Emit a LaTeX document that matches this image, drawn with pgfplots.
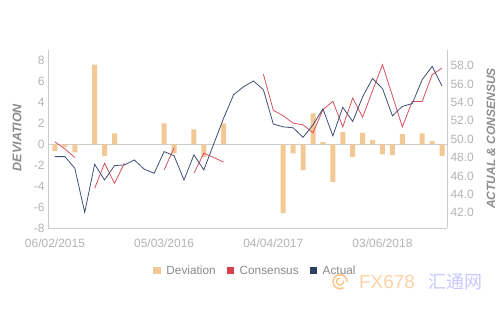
\documentclass[border=0pt]{standalone}
\usepackage{fontspec}
\setmainfont{Liberation Sans}
\newfontfamily\cjk{Noto Sans CJK SC}
\usepackage{pgfplots}
\pgfplotsset{compat=1.18}
\definecolor{devc}{HTML}{F2C895}
\definecolor{conc}{HTML}{D8404E}
\definecolor{actc}{HTML}{2F3F62}
\definecolor{conl}{HTML}{D9525E}
\definecolor{actl}{HTML}{414F70}
\definecolor{axc}{HTML}{CCCCCC}
\definecolor{tickc}{HTML}{B3B3B3}
\definecolor{labc}{HTML}{8C8C8C}
\definecolor{legc}{HTML}{8A8A8A}
\begin{document}
\begin{tikzpicture}
\pgfplotsset{
  common/.style={
    scale only axis, width=399pt, height=178.3pt,
    xmin=-0.7, xmax=39.5,
    /pgf/number format/assume math mode=true,
    tick label style={font=\fontsize{12}{14}\selectfont, text=tickc},
    axis line style={-, draw=axc, line width=0.6pt},
    tick style={draw=none},
  }
}
\begin{axis}[common,
  ymin=-8, ymax=9,
  axis x line*=bottom, axis y line*=left,
  xtick={0,11,22,33},
  xticklabels={06/02/2015,05/03/2016,04/04/2017,03/06/2018},
  xticklabel style={yshift=-7pt},
  ytick={-8,-6,...,8},
  extra y ticks={0}, extra y tick labels={},
  extra y tick style={grid=major, major grid style={draw=axc, line width=0.6pt}},
  ylabel={DEVIATION},
  ylabel style={at={(axis description cs:-0.0777,0.509)}, anchor=center,
    font=\fontsize{12.5}{14}\selectfont\bfseries\itshape, text=labc},
]
\addplot[ybar, bar width=5pt, fill=devc, draw=none] coordinates {
(0,-0.64) (1,-0.26) (2,-0.76) (4,7.6) (5,-1.12) (6,1.05) (11,2.0) (12,-0.86)
(14,1.43) (15,-1.2) (17,2.0) (23,-6.56) (24,-0.86) (25,-2.45) (26,2.96)
(27,0.22) (28,-3.57) (29,1.17) (30,-1.18) (31,1.13) (32,0.41) (33,-0.95)
(34,-1.02) (35,0.98) (37,1.05) (38,0.32) (39,-1.12)
};
\end{axis}
\begin{axis}[common,
  ymin=40.3, ymax=59.7,
  axis y line*=right, axis x line=none,
  ytick={42,44,...,58},
  yticklabel={\pgfmathprintnumber[fixed,fixed zerofill,precision=1]{\tick}},
  yticklabel style={anchor=west},
  ylabel={ACTUAL \& CONSENSUS},
  ylabel style={at={(axis description cs:1.110,0.504)}, anchor=center,
    font=\fontsize{12}{14}\selectfont\bfseries\itshape, text=labc},
  unbounded coords=jump,
  legend image code/.code={\fill[#1, draw=none] (0pt,-3.6pt) rectangle (7.2pt,3.6pt); \path[draw=none, fill=none] (0pt,0pt) -- (11pt,0pt);},
  legend style={at={(axis description cs:0.52,-0.238)}, anchor=center, draw=none,
    font=\fontsize{11.8}{14}\selectfont, text=legc,
    /tikz/every even column/.append style={column sep=9pt}},
  legend columns=3,
]
\addlegendimage{fill=devc}
\addlegendentry{Deviation}
\addlegendimage{fill=conc}
\addlegendentry{Consensus}
\addlegendimage{fill=actc}
\addlegendentry{Actual}
\addplot[forget plot, conl, line width=0.8pt] coordinates {
(0,49.7) (1,48.94) (2,48.0) (3,nan) (4,44.66) (5,47.38) (6,45.2) (7,47.38)
(8,nan) (9,nan) (10,nan) (11,46.65) (12,49.05) (13,nan) (14,46.29) (15,48.47)
(16,48.0) (17,47.5) (18,nan) (19,nan) (20,nan) (21,57.07) (22,53.14) (23,52.54)
(24,51.74) (25,51.56) (26,50.69) (27,53.2) (28,54.12) (29,51.34) (30,54.47)
(31,52.38) (32,55.27) (33,58.1) (34,54.72) (35,51.34) (36,54.1) (37,54.1)
(38,57.01) (39,57.74)
};
\addplot[forget plot, actl, line width=0.8pt] coordinates {
(0,48.1) (1,48.1) (2,46.84) (3,42.04) (4,47.27) (5,45.56) (6,47.12) (7,47.2)
(8,47.74) (9,46.73) (10,46.29) (11,48.65) (12,48.2) (13,45.56) (14,48.29)
(15,46.65) (16,49.49) (17,52.3) (18,54.83) (19,55.7) (20,56.33) (21,55.38)
(22,51.64) (23,51.34) (24,51.23) (25,50.2) (26,51.56) (27,53.3) (28,50.36)
(29,53.47) (30,51.92) (31,54.61) (32,56.6) (33,55.5) (34,52.54) (35,53.56)
(36,53.87) (37,56.47) (38,57.92) (39,55.78)
};
\end{axis}
\draw[orange!45, line width=1.6pt] (292pt,-53.4pt) ++(0:7pt) arc (0:300:7pt);
\draw[orange!45, line width=1.4pt] (292pt,-53.4pt) ++(90:3.5pt) arc (90:380:3.5pt);
\node[text=orange!35, font=\fontsize{19}{20}\selectfont] at (339pt,-53.4pt) {FX678};
\node[text=blue!22, font=\cjk\fontsize{18}{20}\selectfont] at (407pt,-53.4pt) {汇通网};
\pgfresetboundingbox
\path[use as bounding box] (-48pt,-83.7pt) rectangle (452pt,228.3pt);
\end{tikzpicture}
\end{document}
